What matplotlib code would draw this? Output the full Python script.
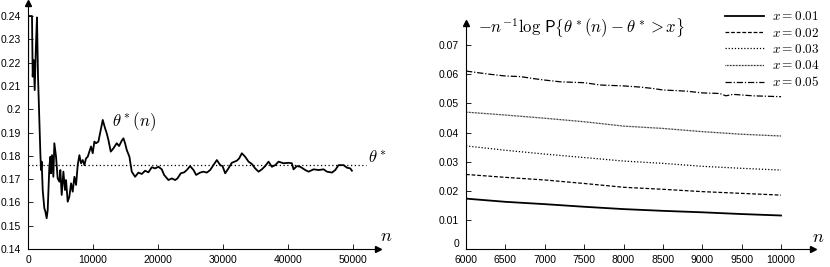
import numpy as np
import matplotlib
matplotlib.use("Agg")
import matplotlib.pyplot as plt

plt.rcParams['font.family'] = 'Liberation Sans'
plt.rcParams['mathtext.fontset'] = 'cm'

# left panel: theta*(n) trajectory
n_path = [0, 30, 615, 720, 870, 1030, 1230, 1380, 1540, 1740, 1900, 2000, 2100, 2260, 2510,
          2670, 2870, 3030, 3280, 3440, 3540, 3690, 3900, 4050, 4310, 4560, 4820, 4970, 5180,
          5440, 5690, 5850, 6100, 6360, 6620, 6870, 7130, 7390, 7640, 7900, 8150, 8410, 8670,
          8920, 9180, 9440, 9690, 9950, 10200, 10460, 10820, 11080, 11490, 11850, 12100,
          12360, 12720, 13130, 13640, 14000, 14410, 14670, 14920, 15180, 15590, 15950, 16460,
          16970, 17490, 18000, 18510, 19030, 19540, 20050, 20560, 20920, 21590, 22100, 22620,
          22970, 23490, 24000, 24410, 24920, 25440, 25850, 26460, 26970, 27490, 28000, 28510,
          29030, 29540, 29900, 30310, 30720, 31330, 32100, 32460, 32870, 33380, 33900, 34410,
          34920, 35440, 35950, 36460, 36970, 37490, 38000, 38510, 39280, 40050, 40560, 40820,
          41330, 41850, 42620, 43130, 43900, 44670, 45440, 45950, 46720, 47230, 47740, 48510,
          49030, 49540, 49790]
theta_path = [0.14, 0.24, 0.24, 0.214, 0.2211, 0.2082, 0.2283, 0.2394, 0.214, 0.1954, 0.1811,
              0.1739, 0.1775, 0.1653, 0.1575, 0.1561, 0.1532, 0.1568, 0.1753, 0.1796, 0.1725,
              0.1803, 0.171, 0.1854, 0.1796, 0.1703, 0.1689, 0.1739, 0.1632, 0.1732, 0.1653,
              0.1696, 0.1603, 0.1625, 0.1682, 0.1646, 0.171, 0.1675, 0.176, 0.1803, 0.1768,
              0.1782, 0.176, 0.1789, 0.1796, 0.1818, 0.184, 0.1811, 0.1861, 0.1854, 0.1861,
              0.1897, 0.1954, 0.1918, 0.1897, 0.1868, 0.1818, 0.1832, 0.1854, 0.1842, 0.1865,
              0.1875, 0.1854, 0.1825, 0.1796, 0.1732, 0.171, 0.1728, 0.1722, 0.1736, 0.1729,
              0.1751, 0.1746, 0.1753, 0.1742, 0.1718, 0.1696, 0.1703, 0.1696, 0.1703, 0.1725,
              0.1729, 0.1739, 0.1756, 0.1739, 0.1718, 0.1728, 0.1732, 0.1728, 0.1739, 0.176,
              0.1782, 0.176, 0.1756, 0.1725, 0.1742, 0.177, 0.1779, 0.1789, 0.1811, 0.1796,
              0.1775, 0.1765, 0.1746, 0.1732, 0.1742, 0.1756, 0.1775, 0.1753, 0.176, 0.1775,
              0.1768, 0.177, 0.1768, 0.1742, 0.1756, 0.1753, 0.1739, 0.1732, 0.1742, 0.1739,
              0.1742, 0.1732, 0.1728, 0.1739, 0.176, 0.176, 0.1749, 0.1746, 0.1736]
theta_star = 0.176
theta_star_end = 52000

# right panel: -n^-1 log P{...} curves
n_right = [6000, 6500, 7000, 7500, 8000, 8500, 9000, 9500, 10000]
curves = {
    '0.01': [0.0173, 0.0162, 0.0154, 0.0145, 0.0137, 0.0131, 0.0126, 0.0120, 0.0115],
    '0.02': [0.0256, 0.0246, 0.0237, 0.0225, 0.0212, 0.0205, 0.0197, 0.0191, 0.0185],
    '0.03': [0.0354, 0.0339, 0.0326, 0.0314, 0.0302, 0.0294, 0.0284, 0.0277, 0.0271],
    '0.04': [0.0470, 0.0460, 0.0449, 0.0437, 0.0422, 0.0414, 0.0403, 0.0394, 0.0388],
}
n_x05 = [6000, 6270, 6500, 6690, 6860, 7000, 7200, 7500, 7710, 8000, 8210, 8380, 8500,
         8800, 9000, 9220, 9300, 9390, 9640, 10000]
x05 = [0.0611, 0.0601, 0.0594, 0.0592, 0.0585, 0.0580, 0.0574, 0.0571, 0.0563, 0.0560,
       0.0556, 0.0551, 0.0546, 0.0542, 0.0536, 0.0534, 0.0526, 0.0531, 0.0526, 0.0523]
styles = {'0.01': '-', '0.02': (0, (3, 1.5)), '0.03': (0, (1, 1.5)), '0.04': (0, (0.6, 0.6))}

fig = plt.figure(figsize=(8.3, 2.67), dpi=100)
W, H = 830.0, 267.0


def setup(ax):
    for s in ['top', 'right']:
        ax.spines[s].set_visible(False)
    for s in ['left', 'bottom']:
        ax.spines[s].set_linewidth(0.8)
    ax.tick_params(direction='in', length=3.5, width=0.6, labelsize=7.5)
    ax.tick_params(axis='x', pad=4.5)
    ax.tick_params(axis='y', pad=5)
    ax.plot([0], [1], marker='^', color='k', ms=4.5, transform=ax.transAxes, clip_on=False)
    ax.plot([1], [0], marker='>', color='k', ms=4.5, transform=ax.transAxes, clip_on=False)


# left axes
ax1 = fig.add_axes([28 / W, 18 / H, 350 / W, 246 / H])
setup(ax1)
ax1.set_xlim(0, 53800)
ax1.set_ylim(0.14, 0.2456)
ax1.plot(n_path, theta_path, color='k', lw=1.3)
ax1.plot([0, theta_star_end], [theta_star, theta_star], color='k', lw=0.9, ls=(0, (1, 2)))
ax1.set_xticks(range(0, 50001, 10000))
ax1.set_yticks(np.arange(0.14, 0.2401, 0.01))
ax1.set_yticklabels(['%g' % round(v, 2) for v in np.arange(0.14, 0.2401, 0.01)])
ax1.text(12900, 0.1945, r'$\theta^*(n)$', fontsize=12, ha='left', va='center')
ax1.text(52300, 0.1795, r'$\theta^*$', fontsize=12, ha='left', va='center')
ax1.text(54100, 0.1455, r'$n$', fontsize=13, ha='left', va='center', clip_on=False)

# right axes
ax2 = fig.add_axes([466 / W, 18 / H, 347 / W, 226 / H])
setup(ax2)
ax2.set_xlim(6000, 10406)
ax2.set_ylim(0, 0.0776)
for key, vals in curves.items():
    ax2.plot(n_right, vals, color='k', lw=1.3 if key == '0.01' else 0.9, ls=styles[key],
             label=r'$x = %s$' % key)
ax2.plot(n_x05, x05, color='k', lw=0.9, ls=(0, (5, 1.5, 1, 1.5)), label=r'$x = 0.05$')
ax2.set_xticks(range(6000, 10001, 500))
ax2.set_yticks(np.arange(0, 0.0701, 0.01))
ax2.set_yticklabels(['%g' % round(v, 2) for v in np.arange(0, 0.0701, 0.01)])
ax2.get_yticklabels()[0].set_verticalalignment('bottom')
ax2.text(6150, 0.0760, r'$-n^{-1}\log\,\mathsf{P}\left\{\theta^*(n)-\theta^*>x\right\}$',
         fontsize=12, ha='left', va='center', clip_on=False)
ax2.text(10390, 0.0040, r'$n$', fontsize=13, ha='left', va='center', clip_on=False)
ax2.legend(loc='upper right', bbox_to_anchor=(829 / W, 266 / H), bbox_transform=fig.transFigure,
           frameon=False, fontsize=9.5, handlelength=3.0, handletextpad=0.6,
           labelspacing=0.25, borderpad=0.2)

fig.savefig('out.png', dpi=100)
